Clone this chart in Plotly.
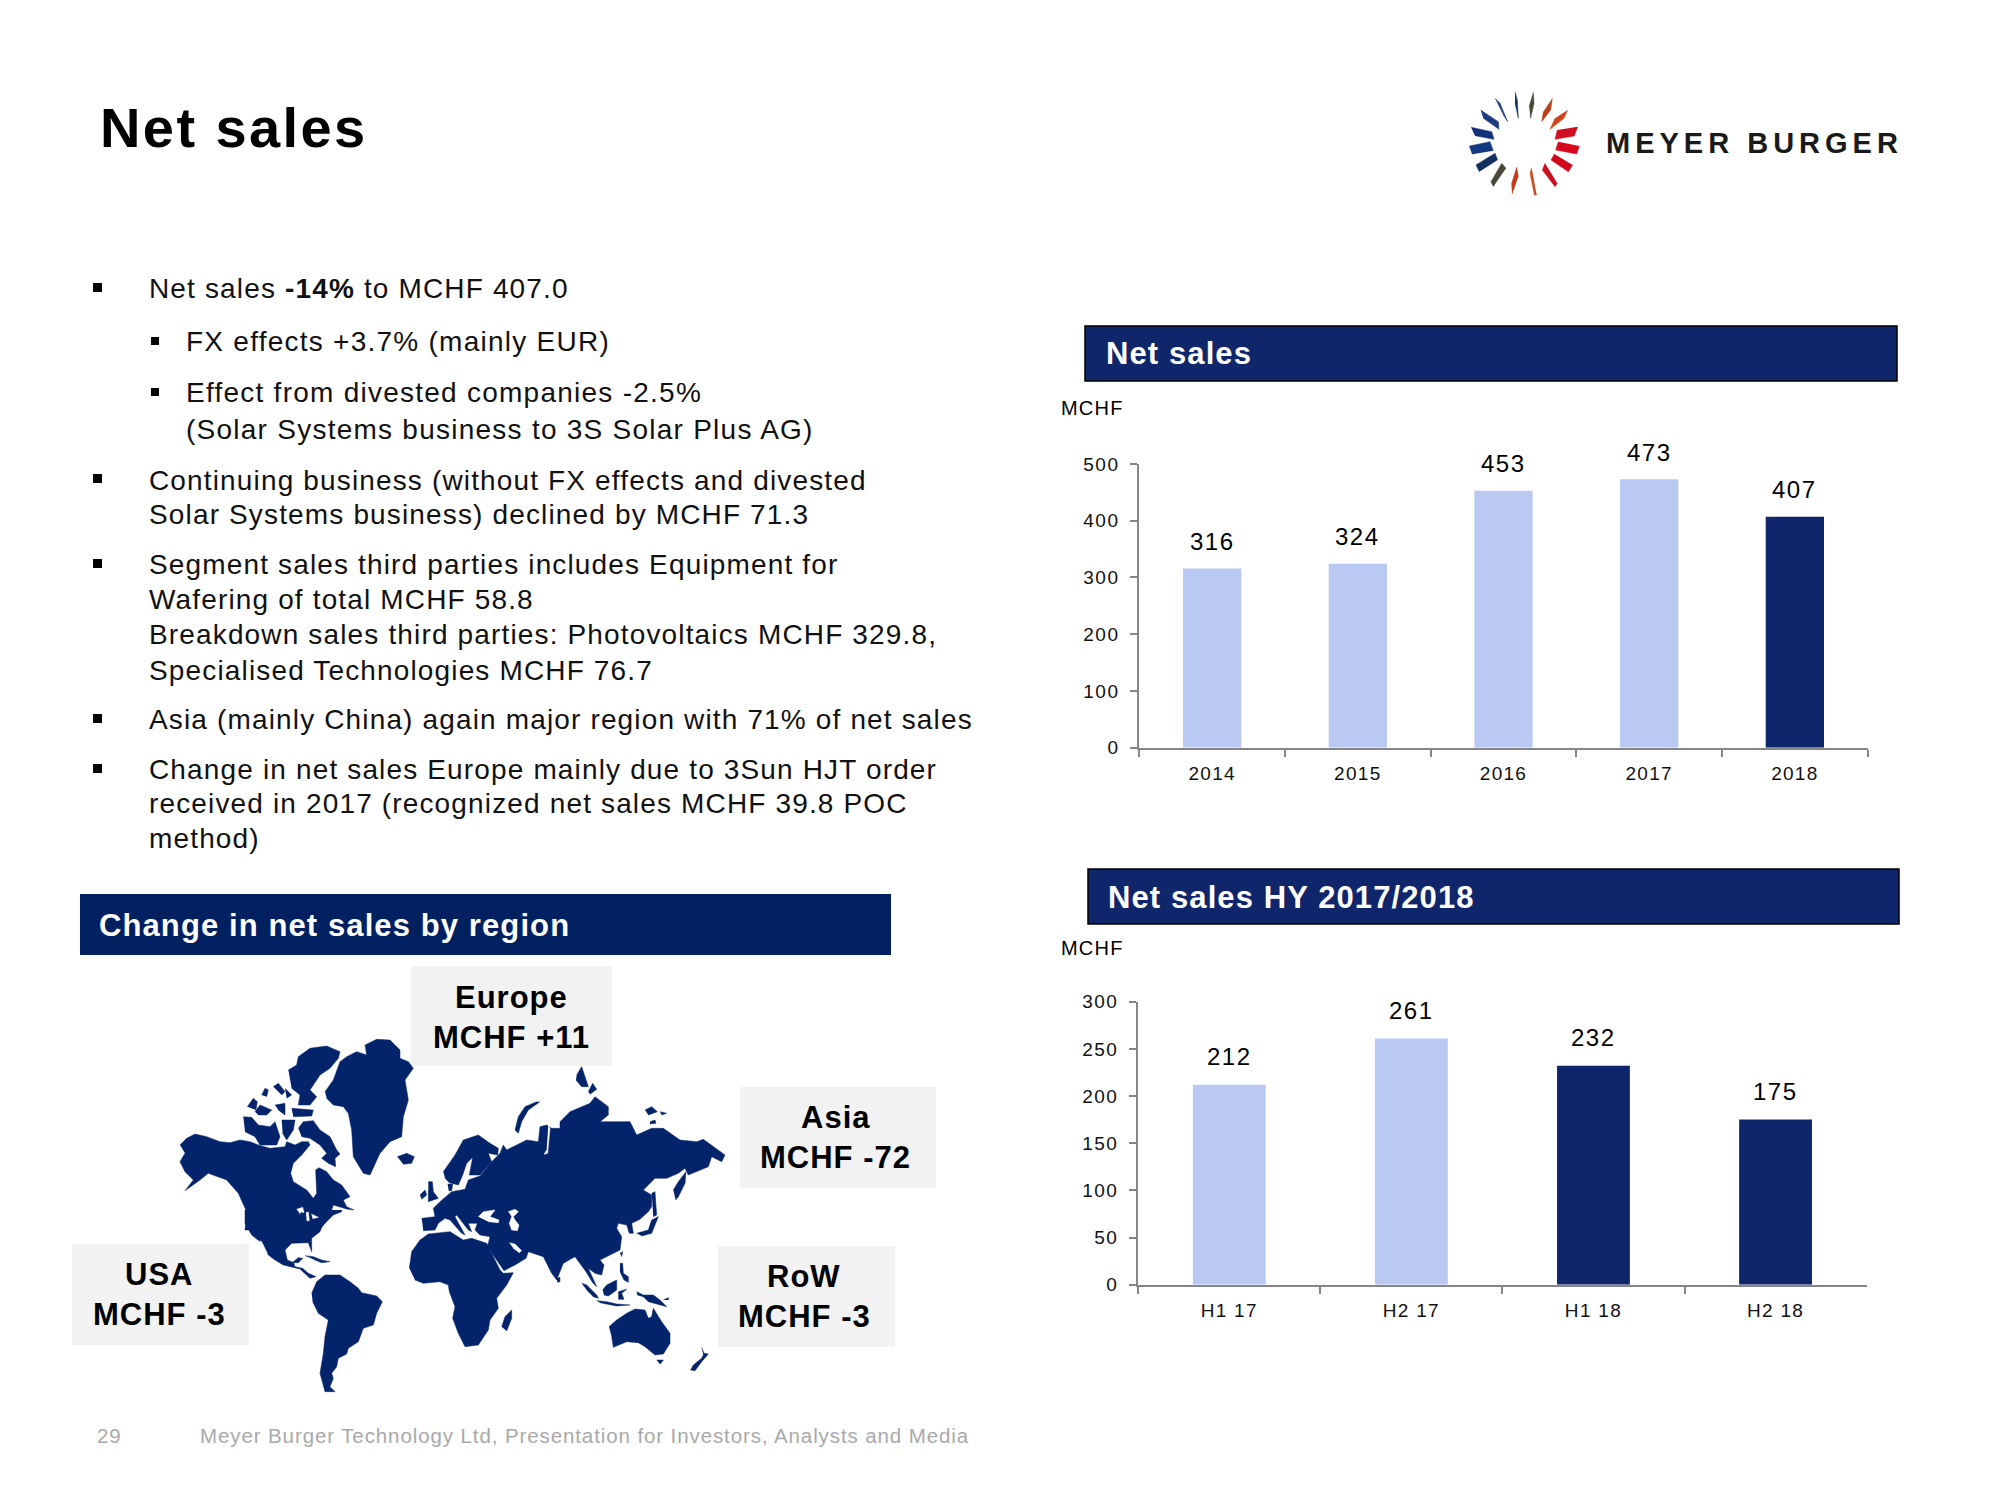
"""
Net sales slide: two bar charts, bullet text, region map and logo, drawn with Plotly.
"""

import plotly.graph_objects as go

# Chart data
YEARS = ["2014", "2015", "2016", "2017", "2018"]
YEAR_SALES = [316, 324, 453, 473, 407]
YEAR_TICKS = [0, 100, 200, 300, 400, 500]

HALF_YEARS = ["H1 17", "H2 17", "H1 18", "H2 18"]
HALF_YEAR_SALES = [212, 261, 232, 175]
HALF_YEAR_TICKS = [0, 50, 100, 150, 200, 250, 300]

REGIONS = ["Europe", "Asia", "RoW", "USA"]
REGION_CHANGES = ["MCHF +11", "MCHF -72", "MCHF -3", "MCHF -3"]

BULLETS_TOP = [
    "Net sales <b>-14%</b> to MCHF 407.0",
    "Continuing business (without FX effects and divested",
    "Solar Systems business) declined by MCHF 71.3",
    "Segment sales third parties includes Equipment for",
    "Wafering of total MCHF 58.8",
    "Breakdown sales third parties: Photovoltaics MCHF 329.8,",
    "Specialised Technologies MCHF 76.7",
    "Asia (mainly China) again major region with 71% of net sales",
    "Change in net sales Europe mainly due to 3Sun HJT order",
    "received in 2017 (recognized net sales MCHF 39.8 POC",
    "method)",
]
BULLETS_TOP_Y = [288, 480, 514, 564, 599, 634, 670, 719, 769, 803, 838]
BULLETS_SUB = [
    "FX effects +3.7% (mainly EUR)",
    "Effect from divested companies -2.5%",
    "(Solar Systems business to 3S Solar Plus AG)",
]
BULLETS_SUB_Y = [341, 392, 429]
SQUARES_TOP_Y = [288, 479, 564, 719, 769]
SQUARES_SUB_Y = [341, 392]

# Colours
NAVY = "#10266a"
BANNER_BLUE = "#002060"
MAP_BLUE = "#03236b"
LIGHT_BAR = "#b9c9f2"
BOX_GREY = "#f2f2f2"
FOOT_GREY = "#a9a9a9"
AXIS_GREY = "#868686"
FONT = "Liberation Sans"

# Map outlines, each as (tile origin, zoomed points)
T_NW = (170, 1030)
T_SW = (230, 1210)
T_NE = (400, 1060)
T_SE = (400, 1230)

NORTH_AMERICA_TOP = [
    (30, 345), (50, 325), (75, 312), (110, 320), (150, 335), (180, 338), (210, 330), (240, 335),
    (265, 345), (300, 355), (345, 350), (350, 335), (375, 345), (395, 335), (415, 335), (420, 345),
    (395, 375), (370, 400), (362, 430), (370, 455), (410, 480), (430, 505), (440, 490), (437, 420),
    (447, 413), (470, 425), (490, 450), (515, 465), (540, 500), (520, 510), (530, 530), (552, 540),
    (530, 537), (490, 525), (480, 555), (450, 600), (225, 600), (230, 545), (205, 490), (170, 450),
    (115, 430), (90, 450), (45, 482), (70, 450), (45, 425), (30, 395), (45, 370),
]
BAFFIN = [(385, 295), (400, 275), (430, 272), (450, 300), (480, 320), (500, 360), (510, 372), (495, 385),
          (497, 410), (475, 400), (455, 385), (470, 370), (450, 345), (420, 325), (395, 320)]
VICTORIA = [(220, 260), (245, 262), (265, 285), (300, 290), (315, 275), (330, 320), (320, 345), (270, 345),
            (255, 320), (225, 305)]
SOMERSET = [(335, 270), (375, 270), (370, 300), (350, 330), (338, 310)]
ELLESMERE = [(355, 120), (380, 105), (385, 80), (420, 55), (470, 48), (510, 65), (505, 85), (480, 115),
             (450, 135), (420, 180), (440, 200), (420, 225), (385, 225), (390, 195), (365, 175)]
ARCTIC_ISLES = [
    [(232, 230), (250, 205), (262, 215), (258, 240)],
    [(255, 245), (270, 225), (305, 240), (290, 255), (265, 255)],
    [(315, 225), (345, 220), (345, 255), (325, 240)],
    [(365, 235), (430, 240), (425, 258), (370, 260)],
    [(310, 170), (325, 160), (345, 185), (335, 195)],
    [(345, 175), (365, 195), (350, 205)],
    [(275, 195), (285, 175), (295, 180), (290, 200)],
]
GREENLAND = [(465, 185), (490, 150), (510, 95), (530, 80), (560, 65), (590, 75), (585, 45), (620, 28),
             (660, 30), (690, 60), (690, 85), (715, 95), (730, 115), (705, 150), (715, 210), (700, 260),
             (695, 320), (660, 335), (630, 370), (600, 435), (580, 430), (550, 380), (545, 300), (535, 250),
             (520, 230), (490, 225), (470, 205)]
ICELAND = [(682, 380), (710, 370), (733, 380), (725, 400), (700, 403)]

NORTH_AMERICA_LOW = [
    (45, 0), (45, 40), (65, 75), (90, 95), (115, 135), (135, 150), (160, 165), (185, 172), (210, 177),
    (240, 205), (258, 200), (235, 190), (218, 175), (195, 170), (190, 155), (205, 143), (218, 145),
    (205, 158), (192, 158), (172, 150), (165, 120), (185, 100), (235, 98), (245, 125), (245, 85),
    (270, 65), (275, 50), (310, 15), (335, 5), (335, 0),
]
CUBA = [(225, 137), (250, 140), (275, 150), (300, 155), (275, 158), (250, 148)]
SOUTH_AMERICA = [(245, 250), (260, 215), (285, 195), (330, 195), (360, 215), (385, 235), (395, 248), (440, 258),
                 (457, 275), (440, 310), (430, 345), (400, 355), (385, 395), (355, 415), (350, 432), (325, 445),
                 (320, 470), (305, 490), (310, 505), (300, 530), (315, 545), (285, 545), (270, 490), (280, 430),
                 (285, 380), (295, 330), (265, 310), (248, 275)]

AFRICA = [(28, 115), (35, 65), (60, 30), (85, 12), (150, 5), (190, 30), (215, 25), (260, 40), (300, 120),
          (310, 130), (340, 128), (320, 165), (290, 205), (295, 235), (270, 270), (265, 300), (235, 345),
          (195, 350), (175, 310), (158, 265), (165, 230), (148, 185), (145, 165), (120, 155), (70, 160), (45, 150)]
MADAGASCAR = [(305, 290), (315, 260), (335, 240), (335, 265), (320, 303)]

EURASIA = [
    (65, 475), (105, 470), (100, 445), (120, 425), (155, 395), (195, 388), (205, 360), (240, 348), (275, 305),
    (300, 280), (310, 255), (320, 270), (350, 255), (380, 240), (415, 245), (420, 200), (440, 195), (455, 205),
    (480, 205), (480, 185), (510, 155), (570, 130), (585, 110), (625, 140), (625, 165), (600, 185), (640, 185),
    (690, 185), (710, 225), (755, 205), (790, 205), (840, 240), (890, 245), (910, 238), (975, 285), (965, 305),
    (935, 290), (925, 320), (865, 345), (855, 325), (835, 340), (800, 355), (765, 355), (730, 390), (755, 405),
    (755, 440), (745, 455), (720, 478), (695, 490), (700, 520), (688, 520), (680, 495), (655, 490), (650, 505),
    (665, 530), (660, 570), (600, 600), (612, 615), (605, 645), (585, 640), (565, 625), (590, 680), (578, 668),
    (558, 635), (525, 590), (490, 610), (470, 660), (455, 640), (430, 590), (385, 575), (378, 595), (345, 615),
    (312, 632), (262, 560), (270, 530), (240, 525), (225, 510), (232, 490), (205, 490), (215, 515), (205, 510),
    (190, 490), (170, 465), (165, 470), (195, 525), (185, 520), (150, 480), (135, 475), (115, 490), (105, 510),
    (70, 512),
]
SCANDINAVIA = [(130, 335), (165, 285), (190, 240), (235, 225), (270, 250), (295, 265), (293, 285), (265, 280),
               (275, 305), (240, 345), (208, 345), (218, 292), (200, 310), (188, 345), (175, 375), (148, 368),
               (135, 355)]
EUROPE_BITS = [
    [(143, 372), (158, 372), (155, 392), (146, 392)],
    [(85, 365), (97, 365), (100, 395), (115, 415), (85, 425), (85, 390)],
    [(60, 405), (75, 390), (80, 405), (65, 418)],
]
NORTH_ISLES = [
    [(420, 125), (385, 150), (365, 185), (355, 220), (345, 210), (355, 170), (375, 140), (410, 125)],
    [(530, 45), (545, 20), (555, 50), (565, 80), (545, 80), (528, 60)],
    [(565, 95), (578, 70), (590, 88), (570, 103)],
    [(735, 150), (755, 140), (772, 155), (745, 165)],
    [(780, 155), (800, 160), (785, 165)],
    [(750, 185), (765, 180), (768, 190), (750, 192)],
]
KAMCHATKA_JAPAN = [
    [(820, 390), (835, 365), (858, 335), (855, 370), (835, 410), (827, 420)],
    [(755, 400), (765, 395), (770, 465), (760, 470)],
    [(710, 520), (745, 510), (755, 480), (775, 470), (755, 520), (725, 528)],
]
# Inland seas, painted over the land in white
SEAS = [
    (T_NE, [(235, 470), (250, 455), (285, 450), (270, 470), (297, 480), (295, 488), (265, 485)]),
    (T_NE, [(325, 455), (345, 448), (355, 455), (340, 470), (345, 480), (357, 495), (352, 512), (335, 510),
            (328, 490), (335, 470)]),
    (T_NE, [(328, 548), (345, 552), (365, 572), (358, 578), (340, 565)]),
    (T_NE, [(445, 195), (450, 205), (443, 280), (432, 283), (440, 270)]),
    (T_NW, [(380, 538), (398, 532), (402, 548), (392, 545), (390, 552)]),
    (T_NW, [(408, 548), (415, 546), (418, 572), (410, 572)]),
    (T_NW, [(424, 552), (445, 562), (428, 566)]),
    (T_SW, [(88, 92), (95, 95), (112, 130), (108, 132)]),
]
SOUTH_SEA_ISLES = [
    [(545, 160), (560, 165), (590, 195), (595, 205), (580, 200), (560, 180)],
    [(590, 212), (620, 215), (650, 222), (690, 225), (650, 228), (600, 218)],
    [(608, 180), (620, 165), (650, 150), (650, 180), (625, 198), (612, 195)],
    [(655, 185), (680, 178), (665, 190), (672, 208), (655, 208)],
    [(660, 100), (668, 100), (670, 130), (685, 140), (685, 157), (672, 150), (660, 125)],
    [(660, 70), (668, 65), (665, 80)],
    [(470, 145), (480, 142), (480, 155), (472, 157)],
    [(710, 185), (730, 195), (760, 195), (780, 210), (800, 230), (770, 222), (745, 215), (730, 200), (712, 195)],
    [(790, 210), (805, 203), (805, 210)],
    [(770, 390), (790, 390), (780, 403)],
    [(905, 352), (912, 370), (925, 372), (905, 395), (885, 422), (872, 420), (880, 405), (905, 385), (910, 375)],
]
AUSTRALIA = [(627, 290), (650, 270), (680, 250), (705, 237), (735, 240), (745, 265), (755, 260), (760, 235),
             (785, 275), (810, 310), (810, 340), (790, 372), (765, 375), (735, 350), (715, 338), (680, 335),
             (640, 352), (635, 320)]

LAND_SHAPES = (
    [(T_NW, p) for p in [NORTH_AMERICA_TOP, BAFFIN, VICTORIA, SOMERSET, ELLESMERE, GREENLAND, ICELAND] + ARCTIC_ISLES]
    + [(T_SW, p) for p in [NORTH_AMERICA_LOW, CUBA, SOUTH_AMERICA]]
    + [(T_SE, p) for p in [AFRICA, MADAGASCAR, AUSTRALIA] + SOUTH_SEA_ISLES]
    + [(T_NE, p) for p in [EURASIA, SCANDINAVIA] + EUROPE_BITS + NORTH_ISLES + KAMCHATKA_JAPAN]
)

# Logo petals, zoomed points with their colour
LOGO_ORIGIN = (1440, 70)
LOGO_PETALS = [
    ("#1c3a7a", [(165, 85), (180, 100), (203, 155), (190, 135)]),
    ("#16345f", [(225, 65), (232, 90), (235, 145), (225, 100)]),
    ("#47483a", [(280, 65), (282, 100), (272, 145), (268, 105)]),
    ("#b8401f", [(337, 85), (332, 120), (305, 155), (310, 125)]),
    ("#d2451e", [(383, 120), (372, 145), (330, 178), (345, 145)]),
    ("#d01020", [(413, 170), (403, 198), (345, 208), (352, 180)]),
    ("#d6081c", [(418, 228), (410, 252), (347, 240), (355, 215)]),
    ("#d0081c", [(398, 285), (385, 305), (333, 270), (343, 252)]),
    ("#c81224", [(352, 340), (345, 350), (307, 300), (315, 280)]),
    ("#d04a20", [(290, 375), (283, 375), (270, 310), (275, 293)]),
    ("#c03a1c", [(217, 372), (215, 340), (230, 292), (235, 320)]),
    ("#4a4838", [(160, 350), (153, 335), (185, 280), (198, 295)]),
    ("#12305f", [(118, 305), (108, 285), (165, 250), (173, 270)]),
    ("#133a80", [(97, 253), (88, 228), (150, 215), (160, 242)]),
    ("#13307a", [(93, 172), (155, 185), (162, 208), (105, 197)]),
    ("#1c3a80", [(122, 120), (175, 155), (177, 178), (130, 145)]),
]


def spaced(text, px):
    return f'<span style="letter-spacing:{px}px">{text}</span>'


def unzoom(origin, points):
    return [origin[0] + x / 3 for x, _ in points], [origin[1] + y / 3 for _, y in points]


fig = go.Figure()

# Page-sized overlay axes, one unit per pixel, for the map and the slide furniture
PAGE = dict(xref="x3", yref="y3")


def add_text(x, y, text, size, color="#000000", anchor="left", space=1.0):
    fig.add_annotation(
        x=x, y=y, text=spaced(text, space), showarrow=False, xanchor=anchor, yanchor="middle",
        font=dict(family=FONT, size=size, color=color), borderpad=0, borderwidth=0, **PAGE,
    )


def add_rect(x0, y0, x1, y1, color, line=None):
    fig.add_shape(
        type="rect", x0=x0, y0=y0, x1=x1, y1=y1, fillcolor=color,
        line=dict(color=line, width=1.5) if line else dict(width=0), layer="below", **PAGE,
    )


for origin, points in LAND_SHAPES:
    xs, ys = unzoom(origin, points)
    fig.add_trace(go.Scatter(x=xs, y=ys, mode="lines", fill="toself", fillcolor=MAP_BLUE,
                             line=dict(color=MAP_BLUE, width=0.5), xaxis="x3", yaxis="y3", hoverinfo="skip"))
for origin, points in SEAS:
    xs, ys = unzoom(origin, points)
    fig.add_trace(go.Scatter(x=xs, y=ys, mode="lines", fill="toself", fillcolor="#ffffff",
                             line=dict(color="#ffffff", width=0.5), xaxis="x3", yaxis="y3", hoverinfo="skip"))
for color, points in LOGO_PETALS:
    xs, ys = unzoom(LOGO_ORIGIN, points)
    fig.add_trace(go.Scatter(x=xs, y=ys, mode="lines", fill="toself", fillcolor=color,
                             line=dict(color=color, width=0.5), xaxis="x3", yaxis="y3", hoverinfo="skip"))

# Bars
year_labels = [spaced(c, 1.3) for c in YEARS]
half_labels = [spaced(c, 1.3) for c in HALF_YEARS]
fig.add_trace(go.Bar(x=year_labels, y=YEAR_SALES, marker_color=[LIGHT_BAR] * 4 + [NAVY], width=0.4,
                     marker_line_width=0, xaxis="x", yaxis="y", hoverinfo="skip"))
fig.add_trace(go.Bar(x=half_labels, y=HALF_YEAR_SALES, marker_color=[LIGHT_BAR] * 2 + [NAVY] * 2, width=0.4,
                     marker_line_width=0, xaxis="x2", yaxis="y2", hoverinfo="skip"))

for label, value in zip(year_labels, YEAR_SALES):
    fig.add_annotation(x=label, y=value, xref="x", yref="y", yshift=27, showarrow=False, yanchor="middle",
                       text=spaced(str(value), 1.5), font=dict(family=FONT, size=24, color="#000000"))
for label, value in zip(half_labels, HALF_YEAR_SALES):
    fig.add_annotation(x=label, y=value, xref="x2", yref="y2", yshift=28, showarrow=False, yanchor="middle",
                       text=spaced(str(value), 1.5), font=dict(family=FONT, size=24, color="#000000"))

# Banners and boxes
add_rect(1085, 326, 1897, 381, NAVY, "#000000")
add_rect(1088, 869, 1899, 924, NAVY, "#000000")
add_rect(80, 894, 891, 955, BANNER_BLUE)
add_rect(411, 966, 612, 1066, BOX_GREY)
add_rect(740, 1087, 936, 1188, BOX_GREY)
add_rect(718, 1246, 895, 1347, BOX_GREY)
add_rect(72, 1244, 249, 1345, BOX_GREY)

add_text(100, 127, "<b>Net sales</b>", 56, space=2.4)
add_text(1106, 353, "<b>Net sales</b>", 31, "#ffffff", space=1.1)
add_text(1108, 897, "<b>Net sales HY 2017/2018</b>", 31, "#ffffff", space=1.1)
add_text(99, 925, "<b>Change in net sales by region</b>", 31, "#ffffff", space=1.1)
add_text(1061, 408, "MCHF", 20, space=1.2)
add_text(1061, 948, "MCHF", 20, space=1.2)

# Bullet text
for y, text in zip(BULLETS_TOP_Y, BULLETS_TOP):
    add_text(149, y, text, 28, "#111111", space=1.15)
for y, text in zip(BULLETS_SUB_Y, BULLETS_SUB):
    add_text(186, y, text, 28, "#111111", space=1.25)
for y in SQUARES_TOP_Y:
    add_rect(93, y - 5, 102, y + 4, "#000000")
for y in SQUARES_SUB_Y:
    add_rect(151, y - 4, 159, y + 4, "#000000")

# Region labels
REGION_CENTERS = [(511, 997), (835, 1117), (804, 1276), (159, 1274)]
for (cx, cy), region, change in zip(REGION_CENTERS, REGIONS, REGION_CHANGES):
    add_text(cx, cy, f"<b>{region}</b>", 31, anchor="center", space=1)
    add_text(cx, cy + 40, f"<b>{change}</b>", 31, anchor="center", space=1)

# Footer and logo wordmark
add_text(97, 1435, "29", 20.5, FOOT_GREY, space=0.9)
add_text(200, 1435, "Meyer Burger Technology Ltd, Presentation for Investors, Analysts and Media",
         20.5, FOOT_GREY, space=0.9)
fig.add_annotation(x=1604, y=143, text=spaced("MEYER BURGER", 5.0), showarrow=False, xanchor="left", yanchor="middle",
                   font=dict(family="Liberation Sans", size=29, color="#1a1a1a", weight=600), **PAGE)

W, H = 2000, 1500
axis_common = dict(showgrid=False, zeroline=False, automargin=False, linecolor=AXIS_GREY, linewidth=2, ticks="outside",
                   tickcolor=AXIS_GREY, tickwidth=1.5, ticklen=7, ticklabelstandoff=7,
                   tickfont=dict(family=FONT, size=19, color="#111111"))
fig.update_layout(
    template="none", width=W, height=H, margin=dict(l=0, r=0, t=0, b=0), showlegend=False,
    paper_bgcolor="#ffffff", plot_bgcolor="rgba(0,0,0,0)", bargap=0.6,
    xaxis=dict(domain=[1139.3 / W, 1867.7 / W], type="category", tickson="boundaries", anchor="y", **axis_common),
    yaxis=dict(domain=[1 - 747.7 / H, 1 - 464 / H], range=[0, 500], anchor="x", tickvals=YEAR_TICKS,
               ticktext=[spaced(t, 1.5) for t in YEAR_TICKS], **axis_common),
    xaxis2=dict(domain=[1138.2 / W, 1866.6 / W], type="category", tickson="boundaries", anchor="y2", **axis_common),
    yaxis2=dict(domain=[1 - 1284.7 / H, 1 - 1001.7 / H], range=[0, 300], anchor="x2", tickvals=HALF_YEAR_TICKS,
                ticktext=[spaced(t, 1.5) for t in HALF_YEAR_TICKS], **axis_common),
    xaxis3=dict(domain=[0, 1], range=[0, W], visible=False, anchor="y3", fixedrange=True, automargin=False),
    yaxis3=dict(domain=[0, 1], range=[H, 0], visible=False, anchor="x3", fixedrange=True, automargin=False),
)

fig.write_html("out.html", config={"displayModeBar": False},
               post_script="document.body.style.margin='0';window.dispatchEvent(new Event('resize'));")
